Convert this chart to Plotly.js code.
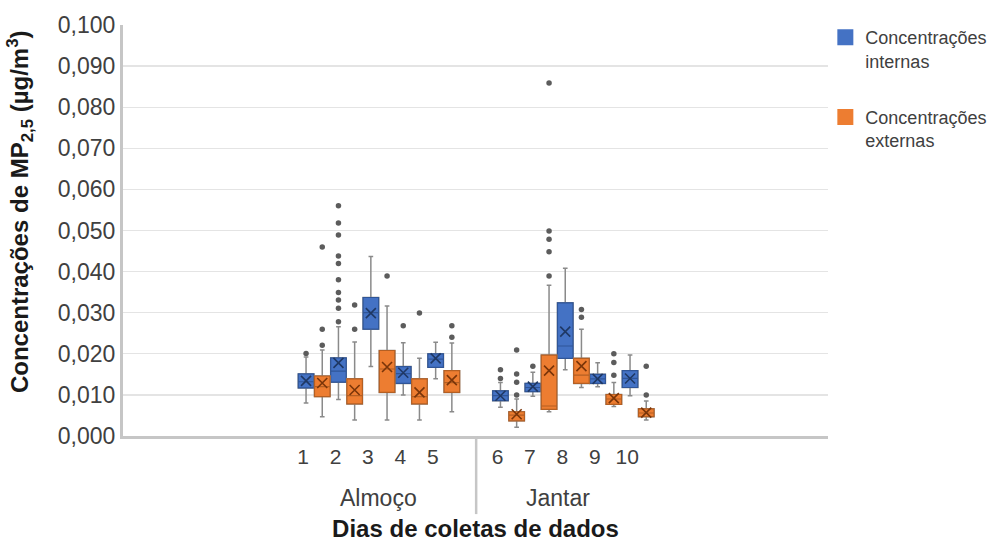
<!DOCTYPE html>
<html>
<head>
<meta charset="utf-8">
<script src="https://cdn.plot.ly/plotly-3.0.1.min.js"></script>
<style>html,body{margin:0;padding:0;background:#fff;}#chart{width:992px;height:542px;}</style>
</head>
<body>
<div id="chart"></div>
<script>
// ---- Data ----
const days  = ['1','2','3','4','5','6','7','8','9','10'];
const meals = ['Almoço','Almoço','Almoço','Almoço','Almoço','Jantar','Jantar','Jantar','Jantar','Jantar'];

// Concentrações internas
const intQ1     = [0.0117,0.0131,0.0260,0.0128,0.0167,0.0086,0.0108,0.0189,0.0128,0.0118];
const intMedian = [0.0132,0.0158,0.0300,0.0152,0.0187,0.0098,0.0118,0.0219,0.0139,0.0140];
const intQ3     = [0.0151,0.0190,0.0337,0.0169,0.0200,0.0110,0.0128,0.0324,0.0150,0.0159];
const intMean   = [0.0134,0.0178,0.0299,0.0154,0.0189,0.0098,0.0120,0.0254,0.0139,0.0140];
const intLower  = [0.0080,0.0089,0.0169,0.0100,0.0139,0.0070,0.0097,0.0161,0.0120,0.0098];
const intUpper  = [0.0192,0.0266,0.0437,0.0227,0.0228,0.0130,0.0155,0.0408,0.0178,0.0197];
const intOutliers = [
  [0.0201],
  [0.0278,0.0311,0.0331,0.0349,0.0380,0.0420,0.0438,0.0489,0.0518,0.0560],
  [],
  [0.0268],
  [],
  [0.0140,0.0161],
  [0.0170],
  [],
  [],
  []
];

// Concentrações externas
const extQ1     = [0.0096,0.0078,0.0106,0.0078,0.0106,0.0037,0.0065,0.0128,0.0077,0.0047];
const extMedian = [0.0120,0.0098,0.0163,0.0096,0.0130,0.0051,0.0073,0.0148,0.0090,0.0056];
const extQ3     = [0.0146,0.0139,0.0208,0.0139,0.0159,0.0059,0.0197,0.0189,0.0101,0.0066];
const extMean   = [0.0129,0.0112,0.0168,0.0106,0.0136,0.0053,0.0159,0.0170,0.0092,0.0057];
const extLower  = [0.0047,0.0039,0.0039,0.0039,0.0059,0.0021,0.0059,0.0118,0.0072,0.0039];
const extUpper  = [0.0209,0.0229,0.0316,0.0189,0.0226,0.0090,0.0367,0.0260,0.0130,0.0085];
const extOutliers = [
  [0.0221,0.0260,0.0460],
  [0.0260,0.0319],
  [0.0389],
  [0.0299],
  [0.0240,0.0268],
  [0.0100,0.0131,0.0151,0.0209],
  [0.0389,0.0448,0.0479,0.0499,0.0859],
  [0.0289,0.0308],
  [0.0148,0.0179,0.0200],
  [0.0100,0.0170]
];

const seriesNames = ['Concentrações<br>internas','Concentrações<br>externas'];
const yTitle = '<b>Concentrações de MP<sub>2,5</sub> (µg/m<sup>3</sup>)</b>';
const xTitle = '<b>Dias de coletas de dados</b>';

// ---- Styles ----
const FONT = 'Arial, "Liberation Sans", sans-serif';
const BLUE = '#4472C4', BLUE_EDGE = '#2F5597', BLUE_X = '#1F3864';
const ORANGE = '#ED7D31', ORANGE_EDGE = '#B45F23', ORANGE_X = '#7A3509';

// category slots: a blank slot separates the two meal groups
const groupIndex = meals.map(m => (m === 'Almoço' ? 0 : 1));
const pos = days.map((d, i) => i + 1 + groupIndex[i]);
const OFF = 0.25, BW = 0.48;
const xInt = pos.map(p => p - OFF);
const xExt = pos.map(p => p + OFF);

function flatten(x, out) {
  const ox = [], oy = [];
  out.forEach((arr, i) => arr.forEach(v => { ox.push(x[i]); oy.push(v); }));
  return {ox, oy};
}

function seriesTraces(x, q1, med, q3, mean, lo, hi, out, fill, edge, xcol, name, grp) {
  const o = flatten(x, out);
  return [
    { type:'box', x:x, q1:q1, median:med, q3:q3, lowerfence:lo, upperfence:hi,
      width:BW, fillcolor:'rgba(0,0,0,0)', line:{color:'#8a8a8a', width:1.5},
      whiskerwidth:0.3, boxpoints:false, showlegend:false, hoverinfo:'skip' },
    { type:'box', x:x, q1:q1, median:med, q3:q3, lowerfence:q1, upperfence:q3,
      width:BW, fillcolor:fill, line:{color:edge, width:1.2},
      whiskerwidth:0, boxpoints:false, showlegend:false },
    { type:'scatter', mode:'markers', x:x, y:mean, showlegend:false,
      marker:{symbol:'x-thin-open', size:10, color:xcol, line:{color:xcol, width:1.6}} },
    { type:'scatter', mode:'markers', x:o.ox, y:o.oy, showlegend:false,
      marker:{color:'#5c5c5c', size:5.5} },
    { type:'scatter', mode:'markers', x:[null], y:[null], name:name, legendgroup:grp,
      marker:{symbol:'square', size:20, color:fill} }
  ];
}

const data = [].concat(
  seriesTraces(xInt, intQ1, intMedian, intQ3, intMean, intLower, intUpper, intOutliers, BLUE, BLUE_EDGE, BLUE_X, seriesNames[0], 'a'),
  seriesTraces(xExt, extQ1, extMedian, extQ3, extMean, extLower, extUpper, extOutliers, ORANGE, ORANGE_EDGE, ORANGE_X, seriesNames[1], 'b')
);

const almPos = pos.filter((p, i) => groupIndex[i] === 0);
const janPos = pos.filter((p, i) => groupIndex[i] === 1);
const avg = a => a.reduce((s, v) => s + v, 0) / a.length;
const sepX = (almPos[almPos.length - 1] + janPos[0]) / 2;

const layout = {
  width: 992, height: 542,
  margin: {l:123, r:164, t:25, b:106, autoexpand:false},
  paper_bgcolor:'#ffffff', plot_bgcolor:'#ffffff',
  separators: ', ',
  font: {family: FONT, color:'#404040'},
  boxmode: 'overlay',
  showlegend: true,
  legend: {xref:'container', yref:'container', x:0.832, xanchor:'left', y:0.965, yanchor:'top',
           font:{size:18, color:'#404040', family:FONT},
           traceorder:'grouped', tracegroupgap:30, valign:'top', bgcolor:'rgba(0,0,0,0)'},
  xaxis: {
    range:[-4.9, 16.86], tickmode:'array', tickvals:pos, ticktext:days,
    showgrid:false, zeroline:false, showline:true, linecolor:'#c6c6c6', linewidth:3,
    ticks:'', ticklabelshift:-11, tickfont:{size:21, color:'#404040'},
    title:{text:xTitle, font:{size:24, color:'#1a1a1a'}, standoff:54}
  },
  yaxis: {
    range:[0, 0.1], dtick:0.01, tick0:0, tickformat:'.3f',
    showgrid:true, gridcolor:'#e4e4e4', gridwidth:1.3, zeroline:false,
    showline:true, linecolor:'#c6c6c6', linewidth:3, ticks:'',
    tickfont:{size:23, color:'#404040'}
  },
  shapes: [
    {type:'line', xref:'x', yref:'paper', x0:sepX, x1:sepX, y0:0, y1:-0.19, line:{color:'#c6c6c6', width:2.5}}
  ],
  annotations: [
    {xref:'x', yref:'paper', x:avg(almPos), y:-0.151, yanchor:'middle', text:'Almoço', showarrow:false, font:{size:23, color:'#404040'}},
    {xref:'x', yref:'paper', x:avg(janPos), xshift:-15, y:-0.151, yanchor:'middle', text:'Jantar', showarrow:false, font:{size:23, color:'#404040'}},
    {xref:'paper', yref:'paper', x:-0.146, y:0.545, xanchor:'center', yanchor:'middle', textangle:-90,
     text:yTitle, showarrow:false, font:{size:24, color:'#1a1a1a'}}
  ]
};

Plotly.newPlot('chart', data, layout, {staticPlot:true, displayModeBar:false});
</script>
</body>
</html>
